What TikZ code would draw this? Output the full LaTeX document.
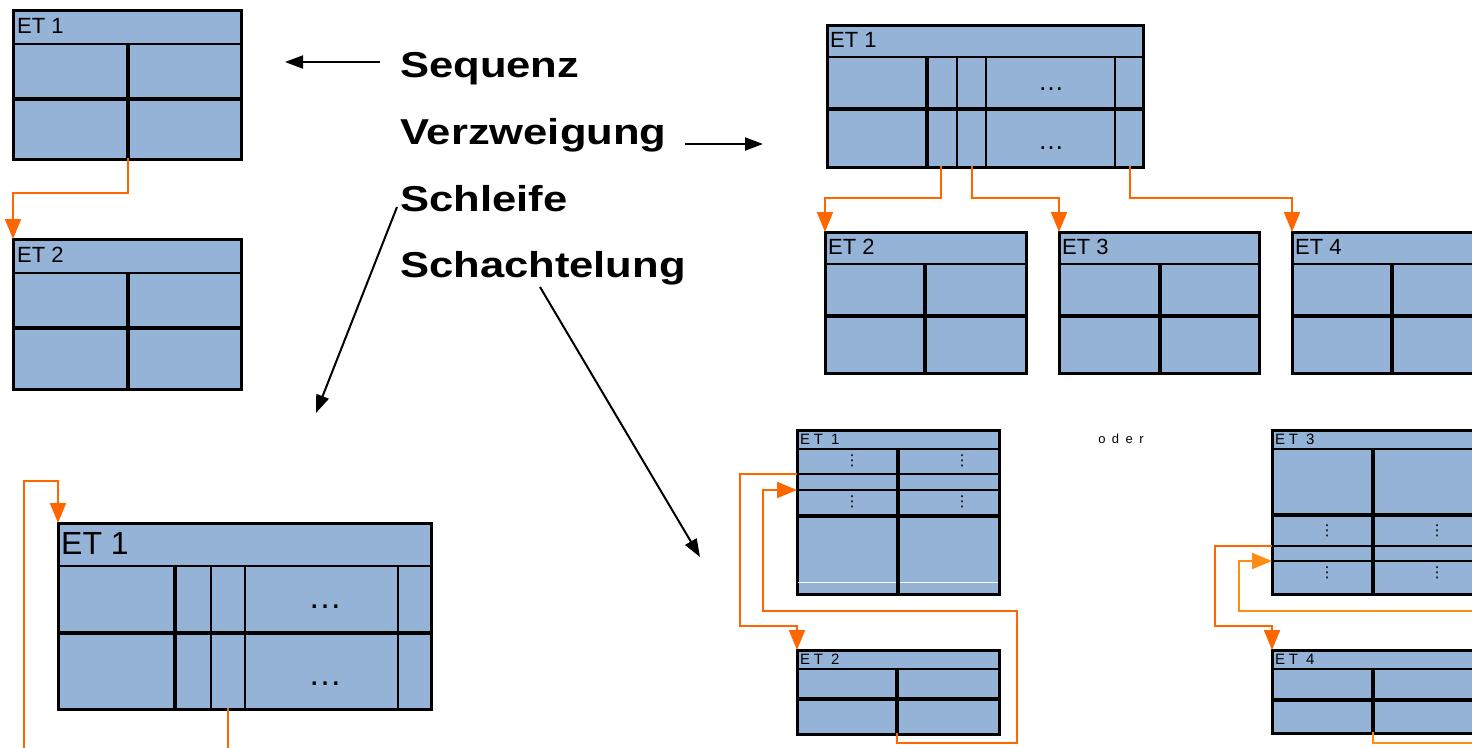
\documentclass[tikz,border=0pt]{standalone}
\usepackage{fontspec}
\usepackage{graphicx}
\setmainfont{Liberation Sans}
\newfontfamily\dejavu{DejaVu Sans}
\usetikzlibrary{arrows.meta}
\definecolor{etblue}{RGB}{149,179,215}
\definecolor{orA}{RGB}{255,102,0}
\definecolor{orB}{RGB}{255,140,20}
\begin{document}
\begin{tikzpicture}[x=1pt,y=-1pt,
  etbox/.style={draw=black, line width=2pt, fill=etblue, inner sep=0pt, anchor=north west},
  thickl/.style={line width=4pt},
  thinl/.style={line width=1.8pt},
  oline/.style={draw=orA, line width=2pt},
  oarrow/.style={oline, -{Triangle[length=20pt,width=16pt]}},
  barrow/.style={line width=2pt, -{Triangle[length=18pt,width=13pt]}},
  bigl/.style={inner sep=0pt, anchor=base west, font=\fontsize{36}{40}\selectfont\bfseries},
  hlbl/.style={inner sep=0pt, anchor=west, font=\fontsize{22}{24}\selectfont},
  slbl/.style={inner sep=0pt, anchor=west, font=\fontsize{15}{17}\selectfont\addfontfeatures{LetterSpace=25}},
  dotsl/.style={inner sep=0pt, anchor=base, font=\fontsize{26}{28}\selectfont},
  vdotsl/.style={inner sep=0pt, font=\dejavu\fontsize{15}{16}\selectfont}
]
\useasboundingbox (0,0) rectangle (1472,747);

% ---------------- Labels in the middle
\node[bigl] (seq) at (400,77) {\scalebox{1.21}[1]{Sequenz}};
\node[bigl] (verz) at (400,144) {\scalebox{1.21}[1]{Verzweigung}};
\node[bigl] (schl) at (400,211) {\scalebox{1.21}[1]{Schleife}};
\node[bigl] (scha) at (400,277) {\scalebox{1.21}[1]{Schachtelung}};

\coordinate (seqS) at (380,62);
\coordinate (seqE) at (285,62);
\coordinate (verS) at (685,144);
\coordinate (verE) at (763,144);
\coordinate (schlS) at (397,207);
\coordinate (schlE) at (316,413);
\coordinate (schaS) at (540,287);
\coordinate (schaE) at (700,557);
\draw[barrow] (seqS) -- (seqE);
\draw[barrow] (verS) -- (verE);
\draw[barrow] (schlS) -- (schlE);
\draw[barrow] (schaS) -- (schaE);

% ---------------- Sequenz
\node[etbox, minimum width=227pt, minimum height=148pt] (A1) at (13,10) {};
\draw[thinl] (13,44) -- (240,44);
\draw[thickl] (13,99) -- (240,99);
\draw[thickl] (128,44) -- (128,158);
\draw[line width=2pt] (A1.north west) rectangle (A1.south east);
\node[hlbl] (A1t) at (17,26) {ET 1};

\node[etbox, minimum width=227pt, minimum height=149pt] (A2) at (13,239) {};
\draw[thinl] (13,273) -- (240,273);
\draw[thickl] (13,328) -- (240,328);
\draw[thickl] (128,273) -- (128,388);
\draw[line width=2pt] (A2.north west) rectangle (A2.south east);
\node[hlbl] (A2t) at (17,255) {ET 2};

\coordinate (a1o) at (128,158);
\draw[oarrow] (a1o) |- (13,193) -- (A2.north west);

% ---------------- Verzweigung
\node[etbox, minimum width=315pt, minimum height=141pt] (B1) at (827,25) {};
\draw[thinl] (827,57) -- (1142,57);
\draw[thickl] (827,109) -- (1142,109);
\draw[thickl] (927,57) -- (927,166);
\draw[thinl] (957,57) -- (957,166);
\draw[thinl] (986,57) -- (986,166);
\draw[thinl] (1115,57) -- (1115,166);
\draw[line width=2pt] (B1.north west) rectangle (B1.south east);
\node[hlbl] (B1t) at (830,40) {ET 1};
\node[dotsl] (B1d1) at (1051,90) {…};
\node[dotsl] (B1d2) at (1051,149) {…};

\node[etbox, minimum width=200pt, minimum height=140pt] (B2) at (825,232) {};
\draw[thinl] (825,264) -- (1025,264);
\draw[thickl] (825,316) -- (1025,316);
\draw[thickl] (925,264) -- (925,372);
\draw[line width=2pt] (B2.north west) rectangle (B2.south east);
\node[hlbl] (B2t) at (828,247) {ET 2};

\node[etbox, minimum width=199pt, minimum height=140pt] (B3) at (1059,232) {};
\draw[thinl] (1059,264) -- (1258,264);
\draw[thickl] (1059,316) -- (1258,316);
\draw[thickl] (1160,264) -- (1160,372);
\draw[line width=2pt] (B3.north west) rectangle (B3.south east);
\node[hlbl] (B3t) at (1062,247) {ET 3};

\node[etbox, minimum width=200pt, minimum height=140pt] (B4) at (1292,232) {};
\draw[thinl] (1292,264) -- (1492,264);
\draw[thickl] (1292,316) -- (1492,316);
\draw[thickl] (1392,264) -- (1392,372);
\draw[line width=2pt] (B4.north west) rectangle (B4.south east);
\node[hlbl] (B4t) at (1295,247) {ET 4};

\coordinate (b1o1) at (941,166);
\coordinate (b1o2) at (972,166);
\coordinate (b1o3) at (1130,166);
\draw[oarrow] (b1o1) |- (825,198) -- (B2.north west);
\draw[oarrow] (b1o2) |- (1059,198) -- (B3.north west);
\draw[oarrow] (b1o3) |- (1292,198) -- (B4.north west);

% ---------------- Schleife
\node[etbox, minimum width=372pt, minimum height=185pt] (C1) at (58,523) {};
\draw[thinl] (58,566) -- (430,566);
\draw[thickl] (58,633) -- (430,633);
\draw[thickl] (175,566) -- (175,708);
\draw[thinl] (211,566) -- (211,708);
\draw[thinl] (245,566) -- (245,708);
\draw[thinl] (398,566) -- (398,708);
\draw[line width=2pt] (C1.north west) rectangle (C1.south east);
\node[inner sep=0pt, anchor=west, font=\fontsize{32}{34}\selectfont] (C1t) at (61,543) {ET 1};
\node[dotsl, font=\fontsize{34}{36}\selectfont] (C1d1) at (325,608) {…};
\node[dotsl, font=\fontsize{34}{36}\selectfont] (C1d2) at (325,685) {…};

\coordinate (cin) at (24,750);
\coordinate (cout) at (228,708);
\coordinate (cend) at (228,750);
\draw[oarrow] (cin) |- (58,481) -- (C1.north west);
\draw[oline] (cout) -- (cend);

% ---------------- Schachtelung, left
\node[etbox, minimum width=201pt, minimum height=163pt] (D1) at (797,430) {};
\draw[thinl] (797,449) -- (998,449);
\draw[thinl] (797,474) -- (998,474);
\draw[thinl] (797,490) -- (998,490);
\draw[thickl] (797,516) -- (998,516);
\draw[white, line width=1pt] (797,582) -- (998,582);
\draw[thickl] (898,449) -- (898,593);
\draw[line width=2pt] (D1.north west) rectangle (D1.south east);
\node[slbl] (D1t) at (800,439.5) {ET 1};
\node[vdotsl] (D1a) at (852,461) {⋮};
\node[vdotsl] (D1b) at (962,461) {⋮};
\node[vdotsl] (D1c) at (852,502) {⋮};
\node[vdotsl] (D1d) at (962,502) {⋮};

\node[etbox, minimum width=201pt, minimum height=83pt] (D2) at (797,650) {};
\draw[thinl] (797,669) -- (998,669);
\draw[thickl] (797,699) -- (998,699);
\draw[thickl] (897,669) -- (897,733);
\draw[line width=2pt] (D2.north west) rectangle (D2.south east);
\node[slbl] (D2t) at (800,659.5) {ET 2};

\coordinate (d1o) at (797,474);
\coordinate (d1i) at (797,490);
\coordinate (d2o) at (897,733);
\draw[oarrow] (d1o) -- (740,474) |- (797,626) -- (D2.north west);
\draw[oarrow] (d2o) |- (1017,743) |- (763,611) |- (d1i);

% ---------------- oder
\node[inner sep=0pt, font=\fontsize{13}{15}\selectfont\addfontfeatures{LetterSpace=50}] (oder) at (1121,439) {oder};

% ---------------- Schachtelung, right
\node[etbox, minimum width=208pt, minimum height=163pt] (E1) at (1272,430) {};
\draw[thinl] (1272,449) -- (1480,449);
\draw[thickl] (1272,515) -- (1480,515);
\draw[thinl] (1272,546) -- (1480,546);
\draw[thinl] (1272,561) -- (1480,561);
\draw[thickl] (1373,449) -- (1373,593);
\draw[line width=2pt] (E1.north west) rectangle (E1.south east);
\node[slbl] (E1t) at (1275,439.5) {ET 3};
\node[vdotsl] (E1a) at (1327,531) {⋮};
\node[vdotsl] (E1b) at (1437,531) {⋮};
\node[vdotsl] (E1c) at (1327,573) {⋮};
\node[vdotsl] (E1d) at (1437,573) {⋮};

\node[etbox, minimum width=208pt, minimum height=82pt] (E2) at (1272,650) {};
\draw[thinl] (1272,669) -- (1480,669);
\draw[thickl] (1272,700) -- (1480,700);
\draw[thickl] (1373,669) -- (1373,732);
\draw[line width=2pt] (E2.north west) rectangle (E2.south east);
\node[slbl] (E2t) at (1275,659.5) {ET 4};

\coordinate (e1o) at (1272,546);
\coordinate (e1i) at (1272,561);
\coordinate (einr) at (1480,611);
\coordinate (e2o) at (1373,732);
\coordinate (eoutr) at (1480,743);
\draw[oarrow] (e1o) -- (1215,546) |- (1272,626) -- (E2.north west);
\draw[oarrow, draw=orB] (einr) -- (1239,611) |- (e1i);
\draw[oline, draw=orB] (e2o) |- (eoutr);
\end{tikzpicture}
\end{document}
